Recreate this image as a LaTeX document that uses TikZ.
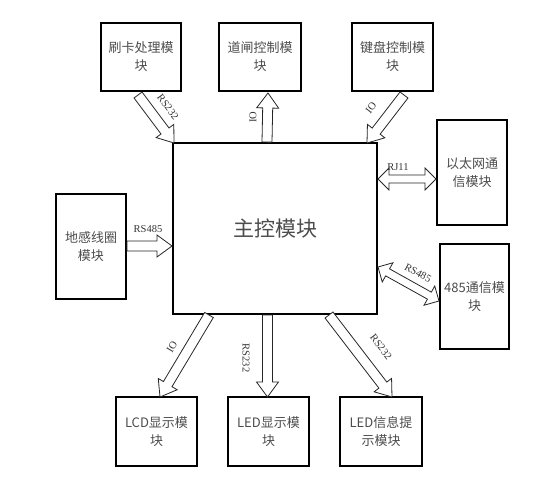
\documentclass[tikz,border=0pt]{standalone}
\usepackage{fontspec}
\setmainfont{Liberation Serif}
\newfontfamily\cjk{Noto Sans CJK SC}
\usetikzlibrary{calc}

\newcommand\hollowarrow[2]{%
  \path let \p1=(#1), \p2=(#2) in \pgfextra{%
    \pgfmathsetmacro\tmpang{atan2(\y2-\y1,\x2-\x1)}%
    \pgfmathsetmacro\tmplen{veclen(\x2-\x1,\y2-\y1)}%
    \xdef\haAng{\tmpang}\xdef\haLen{\tmplen}%
    \xdef\haX{\x1}\xdef\haY{\y1}};
  \draw[arrowline,shift={(\haX,\haY)},rotate=\haAng]
    (0,-5) -- (\haLen-15,-5) -- (\haLen-15,-11) -- (\haLen,0)
    -- (\haLen-15,11) -- (\haLen-15,5) -- (0,5) -- cycle;
}
\newcommand\hollowdarrow[2]{%
  \path let \p1=(#1), \p2=(#2) in \pgfextra{%
    \pgfmathsetmacro\tmpang{atan2(\y2-\y1,\x2-\x1)}%
    \pgfmathsetmacro\tmplen{veclen(\x2-\x1,\y2-\y1)}%
    \xdef\haAng{\tmpang}\xdef\haLen{\tmplen}%
    \xdef\haX{\x1}\xdef\haY{\y1}};
  \draw[arrowline,shift={(\haX,\haY)},rotate=\haAng]
    (0,0) -- (11,11) -- (11,4) -- (\haLen-11,4) -- (\haLen-11,11) -- (\haLen,0)
    -- (\haLen-11,-11) -- (\haLen-11,-4) -- (11,-4) -- (11,-11) -- cycle;
}

\tikzset{
  box/.style={draw=black, line width=2pt, inner sep=0pt, align=center,
    font=\cjk\fontsize{13}{18}\selectfont, text=black!70},
  arrowline/.style={draw=black!85, line width=0.8pt, fill=white, line join=miter},
  lbl/.style={font=\fontsize{10.5}{12}\selectfont, text=black!80, inner sep=0pt},
}

\begin{document}
\begin{tikzpicture}[x=1pt,y=1pt]
\useasboundingbox (0,0) rectangle (555,-479);

% boxes
\node[box, minimum width=80, minimum height=68] (swipe) at (141,-57) {刷卡处理模\\块};
\node[box, minimum width=82, minimum height=68] (gate) at (260,-57) {道闸控制模\\块};
\node[box, minimum width=81, minimum height=68] (kbd) at (392.5,-57) {键盘控制模\\块};
\node[box, minimum width=70, minimum height=105] (eth) at (472,-172.5) {以太网通\\信模块};
\node[box, minimum width=69, minimum height=105] (r485) at (474.5,-296.5) {485通信模\\块};
\node[box, minimum width=70, minimum height=105] (coil) at (91,-246.5) {地感线圈\\模块};
\node[box, minimum width=204, minimum height=171, font=\cjk\fontsize{21}{24}\selectfont] (main) at (275,-228.5) {主控模块};
\node[box, minimum width=81, minimum height=69] (lcd) at (156.5,-431.5) {LCD显示模\\块};
\node[box, minimum width=81, minimum height=69] (ledd) at (268.5,-431.5) {LED显示模\\块};
\node[box, minimum width=82, minimum height=69] (ledi) at (381,-431.5) {LED信息提\\示模块};

% arrows
\hollowarrow{$(swipe.south)+(-3,-3)$}{$(main.north west)+(2,-1)$}
\hollowarrow{$(main.north west)+(95,0)$}{$(gate.south)+(8,-1)$}
\hollowarrow{$(kbd.south)+(11.5,-3)$}{$(main.north east)+(-11,-1)$}
\hollowdarrow{$(main.east)+(0,49.5)$}{$(eth.west)+(0,-6.5)$}
\hollowdarrow{$(main.east)+(0,-38.5)$}{$(r485.west)+(0,-4.5)$}
\hollowarrow{$(coil.east)+(0,0.5)$}{$(main.west)+(0,-17.5)$}
\hollowarrow{$(main.south west)+(37,0)$}{$(lcd.north)+(3.5,-1)$}
\hollowarrow{$(main.south)+(-7.5,0)$}{$(ledd.north)+(-1,-1)$}
\hollowarrow{$(main.south east)+(-49,0)$}{$(ledi.north)+(11,-1)$}

% labels
\node[lbl, rotate=-53] (l1) at (168,-107) {RS232};
\node[lbl, rotate=90] (l2) at (253,-117) {IO};
\node[lbl, rotate=52] (l3) at (371,-108) {IO};
\node[lbl] (l4) at (398,-167) {RJ11};
\node[lbl, rotate=-28] (l5) at (418,-273) {RS485};
\node[lbl] (l6) at (148,-229) {RS485};
\node[lbl, rotate=59] (l7) at (172,-347) {IO};
\node[lbl, rotate=-90] (l8) at (246,-358) {RS232};
\node[lbl, rotate=-52] (l9) at (381,-347) {RS232};
\end{tikzpicture}
\end{document}
